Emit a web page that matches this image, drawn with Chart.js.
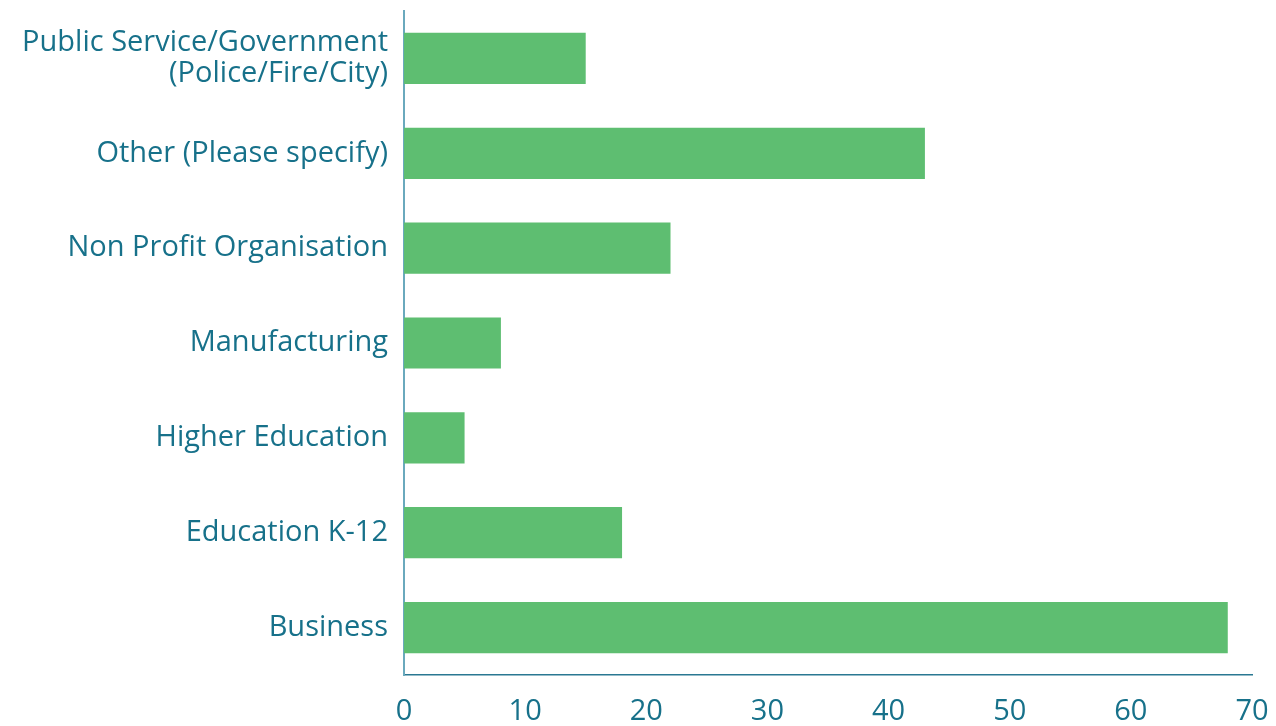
<!DOCTYPE html>
<html>
<head>
<meta charset="utf-8">
<script src="https://cdn.jsdelivr.net/npm/chart.js@4"></script>
<style>
  html, body { margin: 0; padding: 0; background: #ffffff; }
  #wrap { width: 1276px; height: 726px; position: relative; }
</style>
</head>
<body>
<div id="wrap"><canvas id="chart"></canvas></div>
<script>
// Sectors, listed top to bottom
const sectors = [
  ["Public Service/Government", "(Police/Fire/City)"],
  "Other (Please specify)",
  "Non Profit Organisation",
  "Manufacturing",
  "Higher Education",
  "Education K-12",
  "Business"
];
const responses = [15, 43, 22, 8, 5, 18, 68];
const xTicks = [0, 10, 20, 30, 40, 50, 60, 70];

const textColor = "#17718a";
const barColor = "#5ebe71";

// Drop the extra room Chart.js reserves for the outer tick labels
function noEdgePadding(scale) {
  scale.paddingTop = 0;
  scale.paddingBottom = 0;
  scale.paddingLeft = 0;
  scale.paddingRight = 0;
}

new Chart(document.getElementById("chart"), {
  type: "bar",
  data: {
    labels: sectors,
    datasets: [{
      data: responses,
      backgroundColor: barColor,
      borderWidth: 0,
      barPercentage: 0.54,
      categoryPercentage: 1.0
    }]
  },
  options: {
    indexAxis: "y",
    responsive: true,
    maintainAspectRatio: false,
    animation: false,
    layout: { padding: { top: 11, right: 24, bottom: 0, left: 0 } },
    plugins: { legend: { display: false }, tooltip: { enabled: false } },
    scales: {
      x: {
        min: 0,
        max: 70,
        afterBuildTicks: (axis) => { axis.ticks = xTicks.map(v => ({ value: v })); },
        afterFit: (axis) => { noEdgePadding(axis); axis.height = 51; },
        grid: { display: false, drawTicks: false },
        border: { display: true, color: "#2a7892", width: 1.5 },
        ticks: {
          color: textColor,
          padding: 19,
          maxRotation: 0,
          font: { family: "Open Sans", size: 29 }
        }
      },
      y: {
        afterFit: (axis) => { noEdgePadding(axis); axis.width = 404; },
        grid: { display: false, drawTicks: false },
        border: { display: true, color: "#6aa9bd", width: 2 },
        ticks: {
          color: textColor,
          padding: 16,
          font: { family: "Open Sans", size: 29, lineHeight: 1.07 }
        }
      }
    }
  }
});
</script>
</body>
</html>
